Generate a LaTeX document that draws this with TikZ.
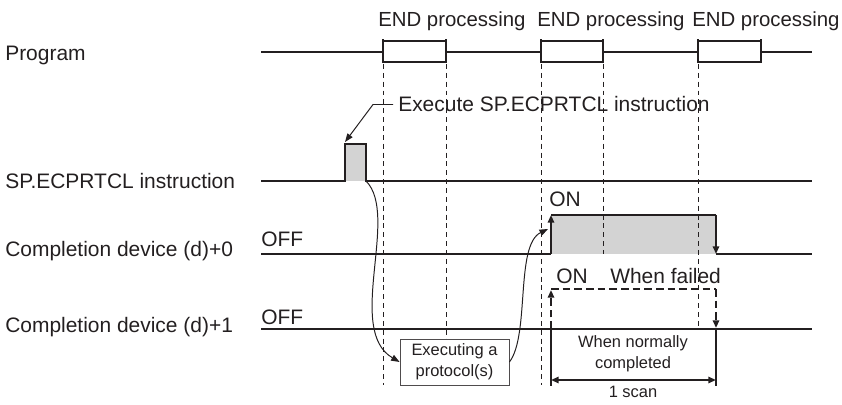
\documentclass[tikz,border=0pt]{standalone}
\usepackage{fontspec}
\setmainfont{Liberation Sans}
\usetikzlibrary{arrows.meta}
\definecolor{inkdark}{RGB}{35,31,32}
\definecolor{pulsegray}{RGB}{211,211,211}
\newcommand{\bigtxt}{\fontsize{14.9}{17}\selectfont}
\newcommand{\headtxt}{\fontsize{14.5}{17}\selectfont}
\newcommand{\smalltxt}{\fontsize{11.7}{14.6}\selectfont}

\begin{document}
\begin{tikzpicture}[x=0.025cm,y=-0.025cm,
        lbl/.style={inner sep=0pt,font=\bigtxt,text=inkdark,anchor=base west},
        note/.style={inner sep=0pt,font=\smalltxt,text=inkdark,align=center},
        sigline/.style={inkdark,line width=1.4pt},
        guide/.style={inkdark,line width=0.6pt,dash pattern=on 3.5pt off 2.8pt},
        dashpulse/.style={inkdark,line width=1.8pt,dash pattern=on 5.5pt off 2.8pt},
        edgetip/.style={-{Triangle[length=5.5pt,width=4.5pt]}},
        flow/.style={inkdark,line width=0.7pt,-{Triangle[length=6pt,width=4.5pt]}}]
    \useasboundingbox (0,0) rectangle (842,405);

    \node[lbl] (prog) at (5,61) {Program};
    \node[lbl] (inst) at (5,189) {SP.ECPRTCL instruction};
    \node[lbl] (dev0) at (5,257) {Completion device (d)+0};
    \node[lbl] (dev1) at (5,333) {Completion device (d)+1};

    \fill[pulsegray] (345,144) rectangle (366,181);
    \fill[pulsegray] (551,215) rectangle (716,254);

    \foreach \x/\y in {383/385,446/339,541/385,603/254,698/329}{
        \draw[guide] (\x,64) -- (\x,\y);
    }

    \draw[sigline] (261,52) -- (383,52) (446,52) -- (541,52) (603,52) -- (698,52) (761,52) -- (812,52);
    \foreach \a/\b/\n/\t in {383/446/1/378,541/603/2/537,698/761/3/692}{
        \draw[sigline] (\a,41) rectangle (\b,62);
        \draw[inkdark,line width=2.1pt] (\a,39.5) -- (\a,63.5) (\b,39.5) -- (\b,63.5);
        \node[lbl,font=\headtxt] (end\n) at (\t,26.7) {END processing};
    }

    \coordinate (pulsetop) at (345,142);
    \coordinate (pulseend) at (366,181);
    \draw[sigline] (261,181) -- (345,181) -- (345,144) -- (366,144) -- (366,181) -- (812,181);
    \node[lbl] (exec) at (398,112) {Execute SP.ECPRTCL instruction};
    \draw[flow] (exec.west) ++(-5,0) -- ++(-20,0) -- (pulsetop);

    \draw[sigline] (261,254) -- (551,254) (551,215) -- (716,215) (716,254) -- (812,254);
    \draw[sigline,edgetip] (551,254) -- (551,215);
    \draw[sigline,edgetip] (716,215) -- (716,254);
    \node[lbl] (off0) at (261,247) {OFF};
    \node[lbl] (on0) at (549,207) {ON};

    \draw[sigline] (261,329) -- (812,329);
    \draw[dashpulse] (551,289) -- (716,289);
    \draw[dashpulse,edgetip] (551,329) -- (551,290);
    \draw[dashpulse,edgetip] (716,289) -- (716,328);
    \node[lbl] (off1) at (261,325) {OFF};
    \node[lbl] (on1) at (556,284) {ON};
    \node[lbl] (failed) at (610,284) {When failed};

    \coordinate (scanl) at (551,380);
    \coordinate (scanr) at (716,380);
    \draw[sigline] (551,329) -- (551,386) (716,329) -- (716,386);
    \draw[sigline,{Triangle[length=5.5pt,width=4.5pt]}-{Triangle[length=5.5pt,width=4.5pt]}] (scanl) -- (scanr);
    \node[note] (normal) at (633,354) {When normally\\completed};
    \node[note,anchor=base] (scan) at (633,398) {1 scan};

    \node[note,draw=inkdark!80,line width=0.6pt,fill=white,minimum width=2.725cm,minimum height=1.15cm] (proto) at (454.5,362) {Executing a\\protocol(s)};
    \coordinate (rise0) at (548,229);
    \draw[flow] (pulseend) .. controls (400,215) and (345,330) .. (proto.west);
    \draw[flow] (proto.east) .. controls (530,335) and (515,245) .. (rise0);
\end{tikzpicture}
\end{document}
